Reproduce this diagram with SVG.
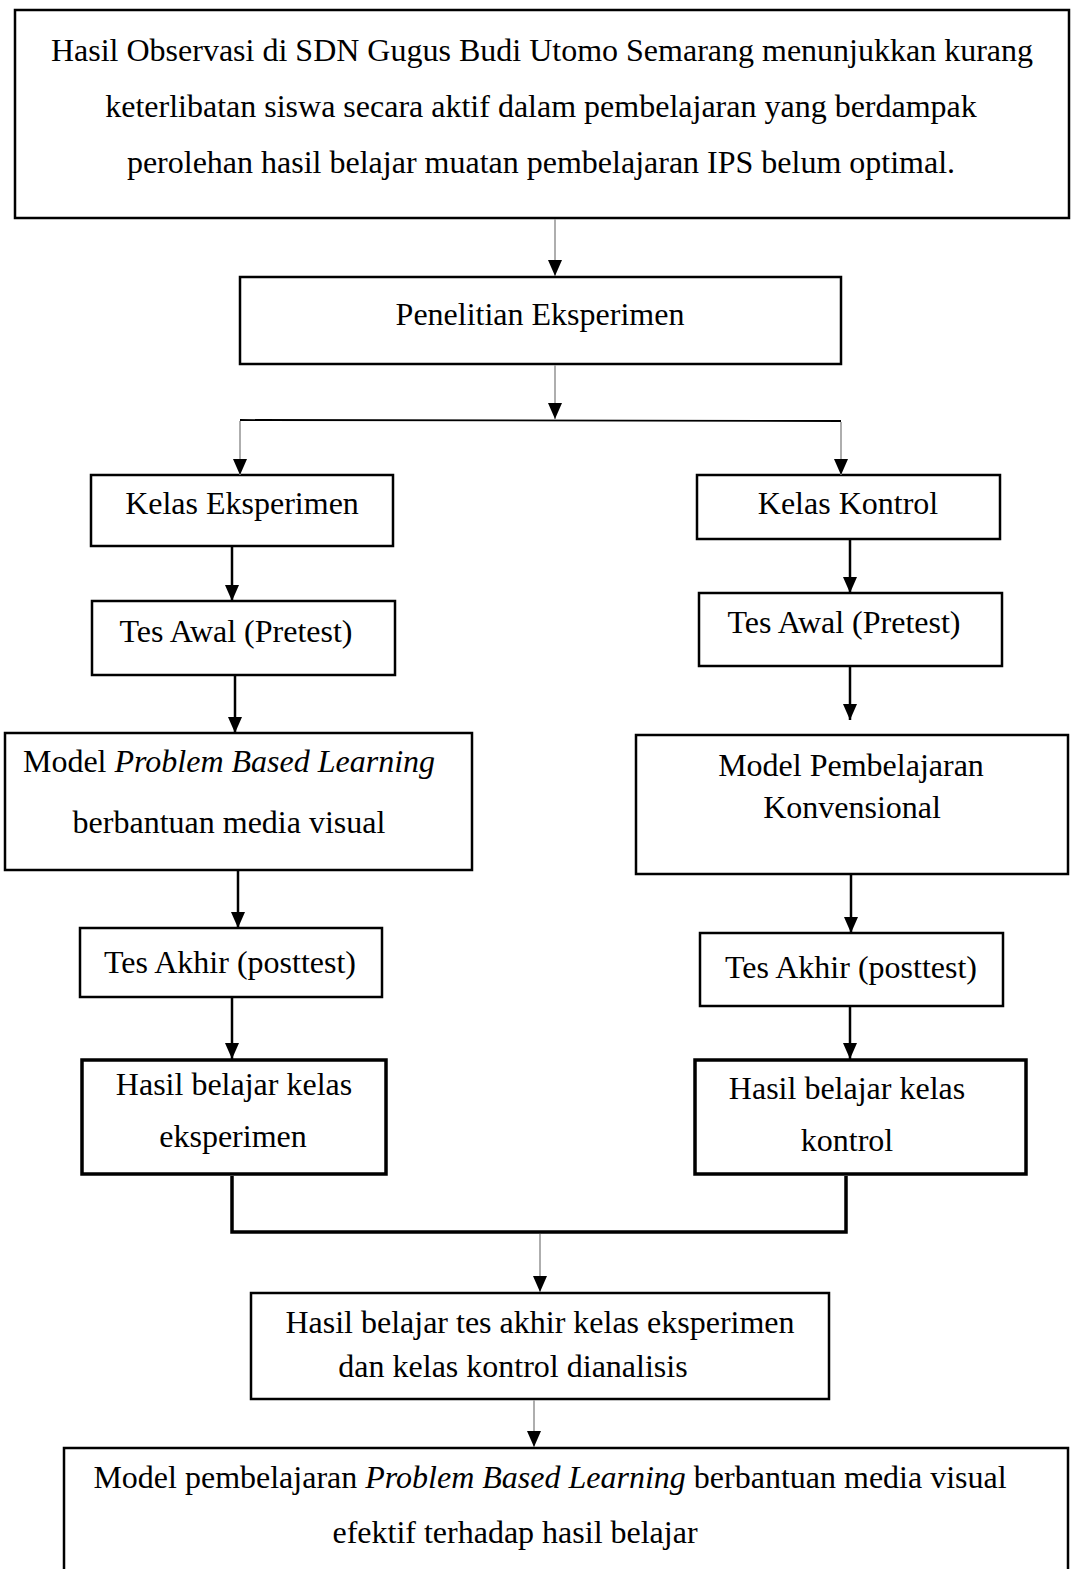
<svg xmlns="http://www.w3.org/2000/svg" width="1072" height="1569" viewBox="0 0 1072 1569">
<defs>
<style>
.box{fill:#fff;stroke:#000;stroke-width:2.5}
.thick{stroke-width:3.5}
text{font-family:"Liberation Serif","Times New Roman",serif;font-size:32px;fill:#000;text-anchor:middle}
.it{font-style:italic}
.g{stroke:#9a9a9a;stroke-width:1.6;fill:none}
.b{stroke:#000;stroke-width:2.5;fill:none}
.m{stroke:#000;stroke-width:3.5;fill:none}
</style>
<marker id="arr" viewBox="0 0 16 14" refX="16" refY="7" markerWidth="16" markerHeight="14" markerUnits="userSpaceOnUse" orient="auto">
<path d="M0,0 L16,7 L0,14 Z" fill="#000"/>
</marker>
</defs>

<g id="n-observasi">
<rect class="box" x="15" y="10" width="1054" height="208" stroke-width="3"/>
<text x="542" y="61">Hasil Observasi di SDN Gugus Budi Utomo Semarang menunjukkan kurang</text>
<text x="541" y="117">keterlibatan siswa secara aktif dalam pembelajaran yang berdampak</text>
<text x="541" y="173">perolehan hasil belajar muatan pembelajaran IPS belum optimal.</text>
</g>

<g id="n-penelitian">
<rect class="box" x="240" y="277" width="601" height="87"/>
<text x="540" y="325">Penelitian Eksperimen</text>
</g>

<g id="n-kelas-eks">
<rect class="box" x="91" y="475" width="302" height="71"/>
<text x="242" y="514">Kelas Eksperimen</text>
</g>
<g id="n-kelas-kon">
<rect class="box" x="697" y="475" width="303" height="64"/>
<text x="848" y="514">Kelas Kontrol</text>
</g>

<g id="n-pre-eks">
<rect class="box" x="92" y="601" width="303" height="74"/>
<text x="236" y="642">Tes Awal (Pretest)</text>
</g>
<g id="n-pre-kon">
<rect class="box" x="699" y="593" width="303" height="73"/>
<text x="844" y="633">Tes Awal (Pretest)</text>
</g>

<g id="n-pbl">
<rect class="box" x="5" y="733" width="467" height="137"/>
<text x="229" y="772">Model <tspan class="it">Problem Based Learning</tspan></text>
<text x="229" y="833">berbantuan media visual</text>
</g>
<g id="n-konv">
<rect class="box" x="636" y="735" width="432" height="139"/>
<text x="851" y="776">Model Pembelajaran</text>
<text x="852" y="818">Konvensional</text>
</g>

<g id="n-post-eks">
<rect class="box" x="80" y="928" width="302" height="69"/>
<text x="230" y="973">Tes Akhir (posttest)</text>
</g>
<g id="n-post-kon">
<rect class="box" x="700" y="933" width="303" height="73"/>
<text x="851" y="978">Tes Akhir (posttest)</text>
</g>

<g id="n-hasil-eks">
<rect class="box thick" x="82" y="1060" width="304" height="114"/>
<text x="234" y="1095">Hasil belajar kelas</text>
<text x="233" y="1147">eksperimen</text>
</g>
<g id="n-hasil-kon">
<rect class="box thick" x="695" y="1060" width="331" height="114"/>
<text x="847" y="1099">Hasil belajar kelas</text>
<text x="847" y="1151">kontrol</text>
</g>

<g id="n-analisis">
<rect class="box" x="251" y="1293" width="578" height="106"/>
<text x="540" y="1333">Hasil belajar tes akhir kelas eksperimen</text>
<text x="513" y="1377">dan kelas kontrol dianalisis</text>
</g>

<g id="n-kesimpulan">
<rect class="box" x="64" y="1448" width="1004" height="140"/>
<text x="550" y="1488">Model pembelajaran <tspan class="it">Problem Based Learning</tspan> berbantuan media visual</text>
<text x="515" y="1543">efektif terhadap hasil belajar</text>
</g>

<g id="connectors">
<line class="g" x1="555" y1="219" x2="555" y2="276" marker-end="url(#arr)"/>
<line class="g" x1="555" y1="365" x2="555" y2="419" marker-end="url(#arr)"/>
<line stroke="#000" stroke-width="1.8" x1="240" y1="420" x2="841" y2="421"/>
<line class="g" x1="240" y1="421" x2="240" y2="475" marker-end="url(#arr)"/>
<line class="g" x1="841" y1="422" x2="841" y2="475" marker-end="url(#arr)"/>
<line class="b" x1="232" y1="547" x2="232" y2="601" marker-end="url(#arr)"/>
<line class="b" x1="850" y1="540" x2="850" y2="593" marker-end="url(#arr)"/>
<line class="b" x1="235" y1="676" x2="235" y2="733" marker-end="url(#arr)"/>
<line class="b" x1="850" y1="667" x2="850" y2="720" marker-end="url(#arr)"/>
<line class="b" x1="238" y1="871" x2="238" y2="928" marker-end="url(#arr)"/>
<line class="b" x1="851" y1="875" x2="851" y2="933" marker-end="url(#arr)"/>
<line class="b" x1="232" y1="998" x2="232" y2="1059" marker-end="url(#arr)"/>
<line class="b" x1="850" y1="1007" x2="850" y2="1059" marker-end="url(#arr)"/>
<polyline class="m" points="232,1176 232,1232 846,1232 846,1176"/>
<line class="g" x1="540" y1="1234" x2="540" y2="1292" marker-end="url(#arr)"/>
<line class="g" x1="534" y1="1400" x2="534" y2="1447" marker-end="url(#arr)"/>
</g>
</svg>
